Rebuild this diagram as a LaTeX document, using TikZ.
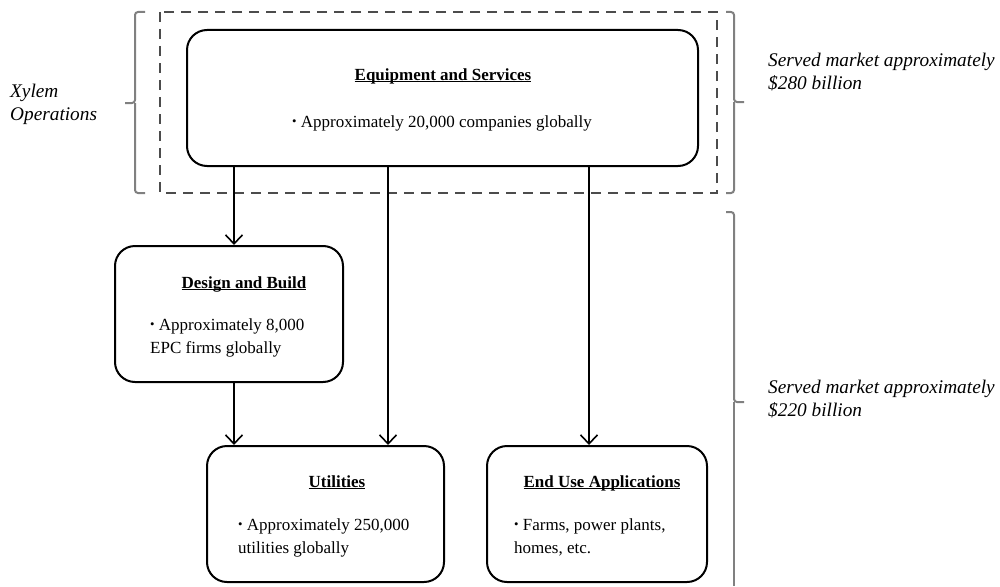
\documentclass[tikz,border=0pt]{standalone}
\usepackage{fontspec}
\setmainfont{Liberation Serif}
\usetikzlibrary{arrows.meta,positioning}

\newcommand{\dotitem}{\raisebox{0.1em}{\scalebox{0.75}{\textbullet}}\ }
\newcommand{\headline}[1]{\setbox0=\hbox{#1}\leavevmode\rlap{\rule[-2.2pt]{\wd0}{1.1pt}}\box0}

\begin{document}
\begin{tikzpicture}[x=1pt,y=-1pt,
    box/.style={draw, line width=2pt, rounded corners=20pt, inner sep=0pt},
    boxtitle/.style={anchor=base, inner sep=0pt, font=\fontsize{17}{23}\selectfont\bfseries},
    boxbody/.style={anchor=base west, inner sep=0pt, align=left, font=\fontsize{17}{23}\selectfont},
    sidenote/.style={anchor=base west, inner sep=0pt, align=left, font=\fontsize{19.3}{23}\selectfont\itshape},
    flow/.style={draw, -{Straight Barb[length=9pt,width=17pt]}, line width=1.6pt},
    bracket/.style={draw=black!50, line width=2pt, rounded corners=3pt},
    opsframe/.style={draw=black!70, line width=2pt, dash pattern=on 10pt off 7pt}]

    \useasboundingbox (0,0) rectangle (1000,586);

    % Frame and brackets
    \draw[opsframe] (160,12) rectangle (717,193);
    \draw[bracket] (145,12) -- (135,12) -- (135,103) -- (125,103);
    \draw[bracket] (145,193) -- (135,193) -- (135,103);
    \draw[bracket] (726,12) -- (734,12) -- (734,102) -- (744,102);
    \draw[bracket] (726,193) -- (734,193) -- (734,102);
    \draw[bracket] (726,212) -- (734,212) -- (734,402) -- (744,402);
    \draw[bracket] (734,586) -- (734,402);

    % Nodes
    \node (equip) [box, minimum width=511pt, minimum height=136pt] at (442.5,98) {};
    \node (design) [box, minimum width=228pt, minimum height=136pt] at (229,314) {};
    \node (util) [box, minimum width=237pt, minimum height=136pt] at (325.5,514) {};
    \node (enduse) [box, minimum width=220pt, minimum height=136pt] at (597,514) {};

    % Texts (multi-line nodes sit on their last baseline)
    \node (equiptitle) [boxtitle] at (443,80) {\headline{Equipment and Services}};
    \node (equipbody) [boxbody, anchor=base] at (442,127) {\dotitem Approximately 20,000 companies globally};
    \node (designtitle) [boxtitle] at (244,288) {\headline{Design and Build}};
    \node (designbody) [boxbody] at (150,353) {\dotitem Approximately 8,000\\EPC firms globally};
    \node (utiltitle) [boxtitle] at (337,487) {\headline{Utilities}};
    \node (utilbody) [boxbody] at (238,553) {\dotitem Approximately 250,000\\utilities globally};
    \node (endusetitle) [boxtitle] at (602,487) {\headline{End Use Applications}};
    \node (endusebody) [boxbody] at (514,553) {\dotitem Farms, power plants,\\homes, etc.};

    \node (xylem) [sidenote] at (10,120) {Xylem\\Operations};
    \node (mkttop) [sidenote] at (768,89) {Served market approximately\\\$280 billion};
    \node (mktbot) [sidenote] at (768,416) {Served market approximately\\\$220 billion};

    % Edges
    \draw[flow] (234,0 |- equip.south) -- (234,0 |- design.north);
    \draw[flow] (234,0 |- design.south) -- (234,0 |- util.north);
    \draw[flow] (388,0 |- equip.south) -- (388,0 |- util.north);
    \draw[flow] (589,0 |- equip.south) -- (589,0 |- enduse.north);
\end{tikzpicture}
\end{document}
